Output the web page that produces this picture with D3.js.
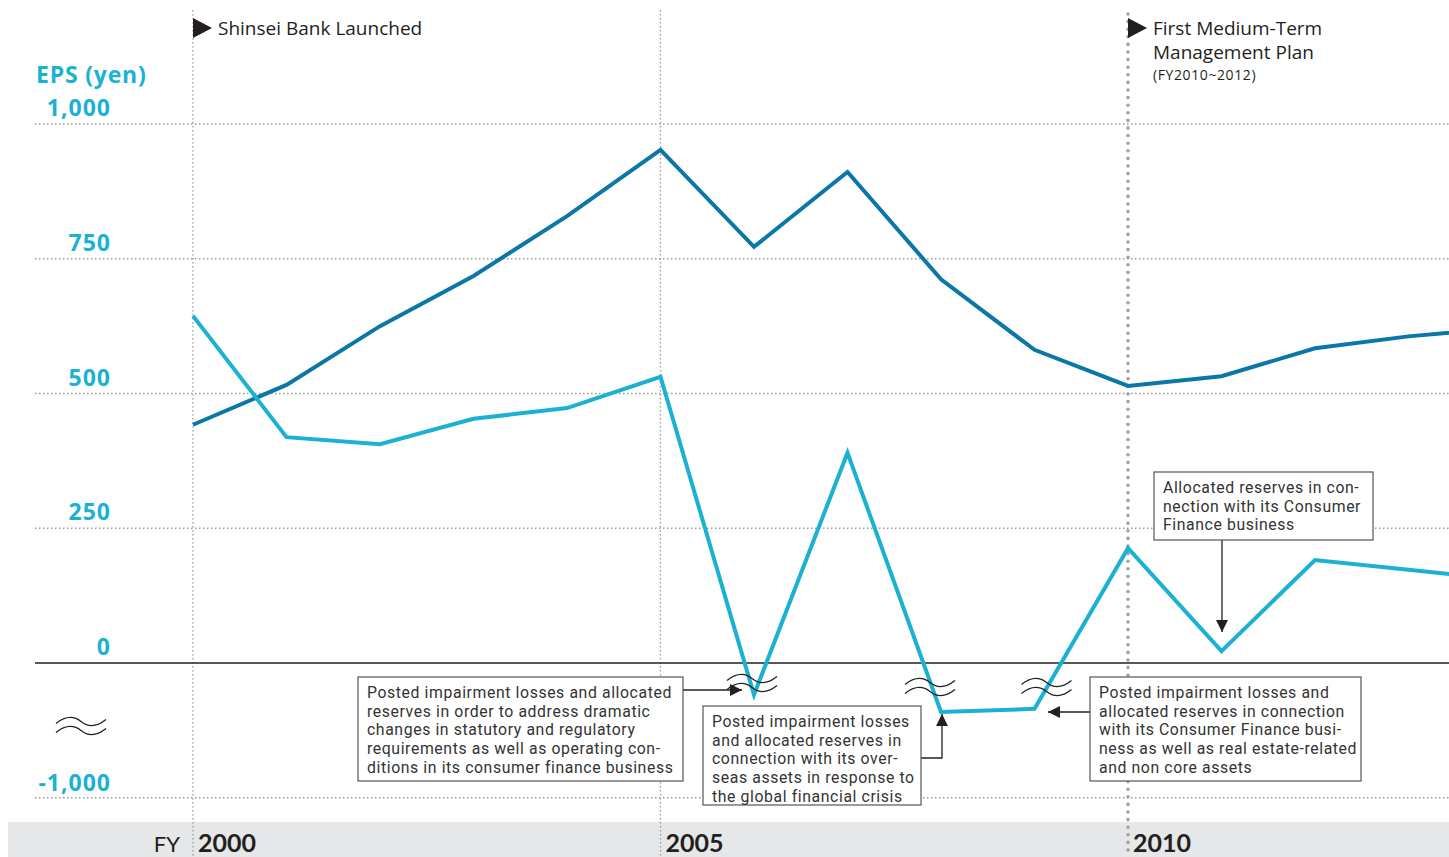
<!DOCTYPE html>
<html><head><meta charset="utf-8">
<script src="https://cdn.jsdelivr.net/npm/d3@7"></script>
<style>
html,body{margin:0;padding:0;background:#fff;}
svg{display:block;font-family:"Open Sans",Lato,sans-serif;}
</style></head>
<body>
<svg id="c" width="1449" height="857"></svg>
<script>
// ---- data ----
const years = [2000,2001,2002,2003,2004,2005,2006,2007,2008,2009,2010,2011,2012,2013,2014];
const epsDark = [442,516,625,718,829,952,772,911,712,581,514,532,584,606,621];
const epsLight = [644,419,406,453,473,531,-59,390,-91,-85,213,22,191,173,155];
const yTicks = [1000,750,500,250,0];
const yTickLabels = ["1,000","750","500","250","0"];
const yBreakTickLabel = "-1,000";
const xLabelYears = [2000,2005,2010];

const svg = d3.select("#c");
const W = 1449, H = 857;
const x = d3.scaleLinear().domain([2000,2010]).range([193,1128]);
const y = d3.scaleLinear().domain([0,1000]).range([663,124]);
const yBreakPos = y(-250); // position of the broken "-1,000" tick

const teal = "#1ab1d3", dark = "#0a77a6", grey = "#9a9a9a", ink = "#231f20";

// bottom band
svg.append("rect").attr("x",8).attr("y",822).attr("width",W-8).attr("height",H-822).attr("fill","#e6e7e8");

// horizontal grid
const gridVals = yTicks.filter(v=>v!==0).map(v=>y(v)).concat([yBreakPos]);
svg.selectAll("line.hg").data(gridVals).enter().append("line")
  .attr("x1",35).attr("x2",W).attr("y1",d=>d).attr("y2",d=>d)
  .attr("stroke",grey).attr("stroke-width",1.3).attr("stroke-dasharray","1.5,2.5");

// vertical year lines
[2000,2005].forEach(yr=>{
  svg.append("line").attr("x1",x(yr)).attr("x2",x(yr)).attr("y1",10).attr("y2",H)
    .attr("stroke",grey).attr("stroke-width",1.3).attr("stroke-dasharray","1.5,2.5");
});
svg.append("line").attr("x1",x(2010)).attr("x2",x(2010)).attr("y1",14).attr("y2",H)
  .attr("stroke","#a0a0a0").attr("stroke-width",3.6).attr("stroke-linecap","round").attr("stroke-dasharray","0,7.6");

// zero line
svg.append("line").attr("x1",35).attr("x2",W).attr("y1",y(0)).attr("y2",y(0)).attr("stroke",ink).attr("stroke-width",1.4);

// y tick labels
svg.selectAll("text.yt").data(yTicks).enter().append("text")
  .attr("x",111).attr("y",d=>y(d)-8).attr("text-anchor","end")
  .attr("fill",teal).attr("font-weight",700).attr("font-size",23).attr("letter-spacing",1)
  .text((d,i)=>yTickLabels[i]);
svg.append("text").attr("x",111).attr("y",yBreakPos-7).attr("text-anchor","end")
  .attr("fill",teal).attr("font-weight",700).attr("font-size",23).attr("letter-spacing",1).text(yBreakTickLabel);
svg.append("text").attr("x",36).attr("y",83).attr("fill",teal).attr("font-weight",700).attr("font-size",23).attr("letter-spacing",0.8).text("EPS (yen)");

// tilde generator
function tilde(g, cx, cy, w){
  const h = w/2;
  const p = `M${-h},2 C${-h*0.55},-7 ${-h*0.2},-4 0,0 C${h*0.2},4 ${h*0.55},7 ${h},-2`;
  [0,9].forEach(off=>{
    g.append("path").attr("d",p).attr("transform",`translate(${cx},${cy-4.5+off})`)
      .attr("fill","none").attr("stroke",ink).attr("stroke-width",1.3);
  });
}
tilde(svg, 81, 726, 50);

// lines
const line = d3.line().x((d,i)=>x(years[i])).y(d=>y(d));
svg.append("path").datum(epsDark).attr("d",line).attr("fill","none").attr("stroke",dark).attr("stroke-width",4);
svg.append("path").datum(epsLight).attr("d",line).attr("fill","none").attr("stroke",teal).attr("stroke-width",4);

// break marks on light line
const breakPos = [[x(2006)-2,683],[x(2008)-11,687],[x(2009)+12,687]];
breakPos.forEach(p=>tilde(svg,p[0],p[1],50));

// x labels
svg.append("text").attr("x",180).attr("y",852).attr("text-anchor","end").attr("fill",ink).attr("font-size",22).attr("font-family","Lato").text("FY");
svg.selectAll("text.xl").data(xLabelYears).enter().append("text")
  .attr("x",d=>x(d)+5).attr("y",852).attr("fill",ink).attr("font-weight",700).attr("font-size",25).attr("font-family","Lato").text(d=>d);

// header markers
function flag(xp, lines){
  svg.append("path").attr("d",`M${xp},18 L${xp+19},28 L${xp},38 Z`).attr("fill",ink);
  lines.forEach(l=>svg.append("text").attr("x",xp+25).attr("y",l.y).attr("font-size",l.s)
    .attr("letter-spacing",l.ls||0).attr("fill",ink).text(l.t));
}
flag(x(2000), [{t:"Shinsei Bank Launched",y:35,s:19}]);
flag(x(2010), [{t:"First Medium-Term",y:35,s:19},{t:"Management Plan",y:59,s:19},{t:"(FY2010~2012)",y:80,s:14,ls:0.6}]);

// annotation boxes
function box(bx,by,bw,bh,lines){
  svg.append("rect").attr("x",bx).attr("y",by).attr("width",bw).attr("height",bh)
    .attr("fill","#fff").attr("stroke","#555").attr("stroke-width",1.2);
  lines.forEach((t,i)=>svg.append("text").attr("x",bx+9).attr("y",by+21+i*18.7)
    .attr("font-family","Roboto").attr("font-size",15.8).attr("letter-spacing",0.6).attr("fill","#333").text(t));
}
svg.append("defs").append("marker").attr("id","ah").attr("viewBox","0 0 10 10").attr("refX",10).attr("refY",5)
  .attr("markerWidth",12).attr("markerHeight",12).attr("markerUnits","userSpaceOnUse").attr("orient","auto")
  .append("path").attr("d","M0,0 L10,5 L0,10 Z").attr("fill",ink);
function arrow(pts){
  svg.append("path").attr("d",d3.line()(pts)).attr("fill","none").attr("stroke",ink).attr("stroke-width",1.3).attr("marker-end","url(#ah)");
}
arrow([[683,690],[742,690]]);
arrow([[921,758],[942,758],[942,714]]);
arrow([[1090,712],[1048,712]]);
arrow([[1222,540],[1222,632]]);

box(358,677,325,104,["Posted impairment losses and allocated","reserves in order to address dramatic","changes in statutory and regulatory","requirements as well as operating con-","ditions in its consumer finance business"]);
box(703,706,218,99,["Posted impairment losses","and allocated reserves in","connection with its over-","seas assets in response to","the global financial crisis"]);
box(1090,677,271,104,["Posted impairment losses and","allocated reserves in connection","with its Consumer Finance busi-","ness as well as real estate-related","and non core assets"]);
box(1154,472,219,68,["Allocated reserves in con-","nection with its Consumer","Finance business"]);
</script>
</body></html>
